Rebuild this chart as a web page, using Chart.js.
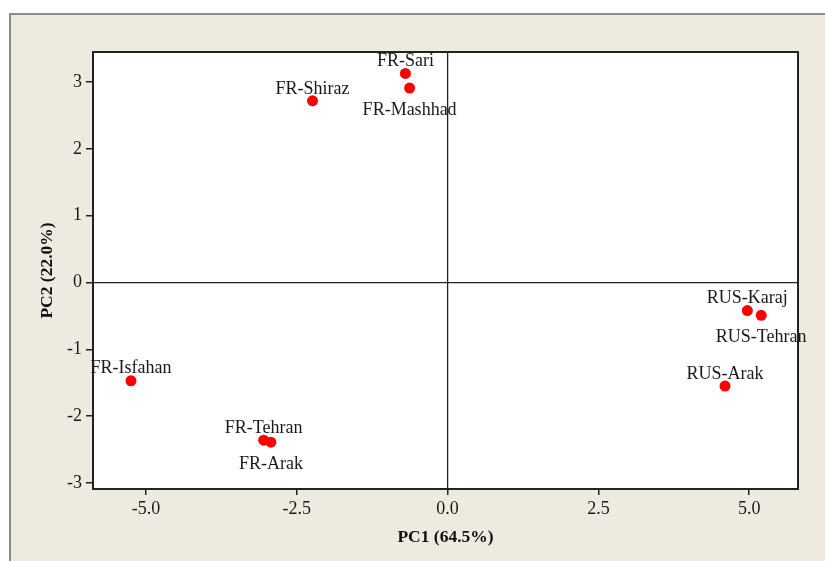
<!DOCTYPE html>
<html>
<head>
<meta charset="utf-8">
<script src="https://cdn.jsdelivr.net/npm/chart.js@4.4.0/dist/chart.umd.min.js"></script>
<style>
body { margin: 0; background: #fff; }
canvas { display: block; }
</style>
</head>
<body>
<canvas id="pcaChart" width="825" height="561"></canvas>
<script>
// PCA scores
var sampleNames = ['FR-Sari', 'FR-Mashhad', 'FR-Shiraz', 'FR-Isfahan', 'FR-Tehran', 'FR-Arak', 'RUS-Karaj', 'RUS-Tehran', 'RUS-Arak'];
var pc1Values = [-0.70, -0.63, -2.24, -5.25, -3.05, -2.93, 4.97, 5.20, 4.60];
var pc2Values = [3.13, 2.91, 2.72, -1.47, -2.36, -2.39, -0.42, -0.49, -1.55];
var labelSide = ['above', 'below', 'above', 'above', 'above', 'below', 'above', 'below', 'above'];
var xTicks = [-5.0, -2.5, 0.0, 2.5, 5.0];
var yTicks = [-3, -2, -1, 0, 1, 2, 3];
var xTitle = 'PC1 (64.5%)';
var yTitle = 'PC2 (22.0%)';

var serif = "'Liberation Serif', 'Times New Roman', serif";

var points = [];
for (var i = 0; i < sampleNames.length; i++) {
    points.push({x: pc1Values[i], y: pc2Values[i]});
}

var backgroundPlugin = {
    id: 'backgroundPlugin',
    beforeDraw: function (chart) {
        var ctx = chart.ctx;
        var a = chart.chartArea;
        ctx.save();
        ctx.fillStyle = '#ffffff';
        ctx.fillRect(0, 0, chart.width, chart.height);
        ctx.fillStyle = '#eeeae0';
        ctx.fillRect(9, 13, chart.width - 9, chart.height - 13);
        ctx.strokeStyle = '#8c8c8c';
        ctx.lineWidth = 2;
        ctx.beginPath();
        ctx.moveTo(10, chart.height);
        ctx.lineTo(10, 14);
        ctx.lineTo(chart.width, 14);
        ctx.stroke();
        ctx.fillStyle = '#ffffff';
        ctx.fillRect(a.left, a.top, a.right - a.left, a.bottom - a.top);
        ctx.restore();
    },
    beforeDatasetsDraw: function (chart) {
        var ctx = chart.ctx;
        var a = chart.chartArea;
        var x0 = chart.scales.x.getPixelForValue(0);
        var y0 = chart.scales.y.getPixelForValue(0);
        ctx.save();
        ctx.strokeStyle = '#222';
        ctx.lineWidth = 1.3;
        ctx.beginPath();
        ctx.moveTo(x0, a.top);
        ctx.lineTo(x0, a.bottom);
        ctx.moveTo(a.left, y0);
        ctx.lineTo(a.right, y0);
        ctx.stroke();
        ctx.lineWidth = 2;
        ctx.strokeRect(a.left, a.top, a.right - a.left, a.bottom - a.top);
        ctx.restore();
    }
};

var labelPlugin = {
    id: 'labelPlugin',
    afterDraw: function (chart) {
        var ctx = chart.ctx;
        var meta = chart.getDatasetMeta(0);
        ctx.save();
        ctx.font = '18px ' + serif;
        ctx.fillStyle = '#1a1a1a';
        ctx.textAlign = 'center';
        ctx.textBaseline = 'middle';
        meta.data.forEach(function (pt, i) {
            var dy = labelSide[i] === 'above' ? -12 : 22;
            ctx.fillText(sampleNames[i], pt.x, pt.y + dy);
        });
        ctx.restore();
    }
};

var ctx = document.getElementById('pcaChart');
var pcaChart = new Chart(ctx, {
    type: 'scatter',
    data: {
        datasets: [{
            label: 'samples',
            data: points,
            backgroundColor: '#ff0000',
            borderWidth: 0,
            pointRadius: 5.5,
            pointHoverRadius: 5.5
        }]
    },
    options: {
        responsive: false,
        animation: false,
        devicePixelRatio: 1,
        layout: {padding: {left: 0, top: 52, right: 27, bottom: 0}},
        plugins: {legend: {display: false}, tooltip: {enabled: false}},
        scales: {
            x: {
                type: 'linear',
                min: -5.88,
                max: 5.81,
                afterBuildTicks: function (scale) {
                    scale.ticks = xTicks.map(function (v) { return {value: v}; });
                },
                afterFit: function (scale) { scale.height = 72; },
                grid: {drawOnChartArea: false, drawTicks: true, tickLength: 6, color: '#222', lineWidth: 1.5},
                border: {display: true, color: '#222', width: 2},
                ticks: {
                    padding: 3,
                    color: '#1a1a1a',
                    font: {family: serif, size: 18},
                    callback: function (v) { return Number(v).toFixed(1); }
                },
                title: {
                    display: true,
                    text: xTitle,
                    color: '#111',
                    font: {family: serif, size: 17.5, weight: 'bold'},
                    padding: {top: 0, bottom: 13}
                }
            },
            y: {
                type: 'linear',
                min: -3.09,
                max: 3.45,
                afterBuildTicks: function (scale) {
                    scale.ticks = yTicks.map(function (v) { return {value: v}; });
                },
                afterFit: function (scale) { scale.width = 93; },
                grid: {drawOnChartArea: false, drawTicks: true, tickLength: 7, color: '#222', lineWidth: 1.5},
                border: {display: true, color: '#222', width: 2},
                ticks: {
                    padding: 4,
                    color: '#1a1a1a',
                    font: {family: serif, size: 18},
                    callback: function (v) { return String(v); }
                },
                title: {
                    display: true,
                    text: yTitle,
                    color: '#111',
                    font: {family: serif, size: 17.5, weight: 'bold'},
                    padding: {top: 37, bottom: 0}
                }
            }
        }
    },
    plugins: [backgroundPlugin, labelPlugin]
});
</script>
</body>
</html>
